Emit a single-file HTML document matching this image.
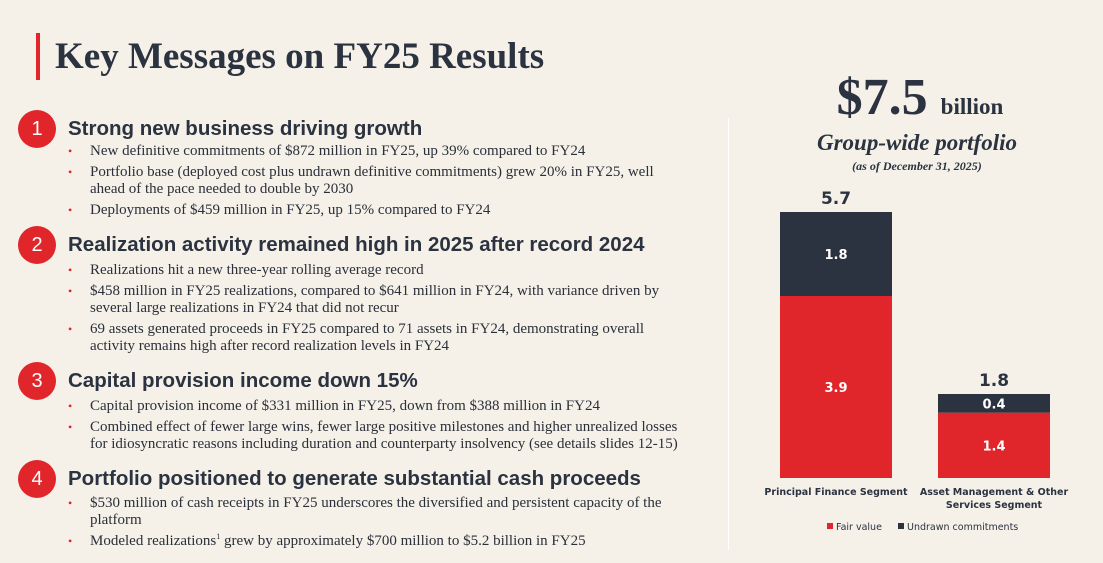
<!DOCTYPE html>
<html><head><meta charset="utf-8"><style>
body{margin:0;width:1103px;height:563px;background:#f5f1e8;position:relative;overflow:hidden;font-family:"Liberation Serif",serif;color:#2a2f3a}
.abs{position:absolute}
h1{position:absolute;left:55px;top:35px;margin:0;font:bold 37px "Liberation Serif",serif;color:#2b3240;white-space:nowrap}
.circ{position:absolute;left:18px;width:38px;height:38px;border-radius:50%;background:#e0262a;color:#fff;font:20px "Liberation Sans",sans-serif;text-align:center;line-height:38px}
.hd{position:absolute;left:68px;font:bold 20.5px "Liberation Sans",sans-serif;color:#2b3240;white-space:nowrap}
ul{position:absolute;left:68px;margin:0;padding:0;list-style:none;width:622px}
li{position:relative;padding-left:22px;font-size:15px;line-height:17px;margin-bottom:4px;color:#2a2f3a}
li:before{content:"•";position:absolute;left:0;color:#e0262a;font-size:12px}
</style></head><body>
<div class="abs" style="left:36px;top:33px;width:4px;height:47px;background:#e0262a"></div>
<h1>Key Messages on FY25 Results</h1>
<div class="abs" style="left:728px;top:118px;width:1px;height:432px;background:#fff"></div>

<div class="circ" style="top:110px">1</div>
<div class="hd" style="top:117px">Strong new business driving growth</div>
<ul style="top:143px">
<li>New definitive commitments of $872 million in FY25, up 39% compared to FY24</li>
<li>Portfolio base (deployed cost plus undrawn definitive commitments) grew 20% in FY25, well ahead of the pace needed to double by 2030</li>
<li>Deployments of $459 million in FY25, up 15% compared to FY24</li></ul>

<div class="circ" style="top:226px">2</div>
<div class="hd" style="top:233px">Realization activity remained high in 2025 after record 2024</div>
<ul style="top:262px">
<li>Realizations hit a new three-year rolling average record</li>
<li>$458 million in FY25 realizations, compared to $641 million in FY24, with variance driven by several large realizations in FY24 that did not recur</li>
<li>69 assets generated proceeds in FY25 compared to 71 assets in FY24, demonstrating overall activity remains high after record realization levels in FY24</li></ul>

<div class="circ" style="top:362px">3</div>
<div class="hd" style="top:369px">Capital provision income down 15%</div>
<ul style="top:398px">
<li>Capital provision income of $331 million in FY25, down from $388 million in FY24</li>
<li>Combined effect of fewer large wins, fewer large positive milestones and higher unrealized losses for idiosyncratic reasons including duration and counterparty insolvency (see details slides 12-15)</li></ul>

<div class="circ" style="top:460px">4</div>
<div class="hd" style="top:467px">Portfolio positioned to generate substantial cash proceeds</div>
<ul style="top:495px">
<li>$530 million of cash receipts in FY25 underscores the diversified and persistent capacity of the platform</li>
<li>Modeled realizations<sup style="font-size:8px;line-height:0">1</sup> grew by approximately $700 million to $5.2 billion in FY25</li></ul>

<div class="abs" style="left:740px;top:68px;width:360px;text-align:center;font:bold 52px 'Liberation Serif',serif;color:#2b3240;white-space:nowrap">$7.5 <span style="font-size:23px">billion</span></div>
<div class="abs" style="left:740px;top:130px;width:354px;text-align:center;font:italic bold 23px 'Liberation Serif',serif;color:#2b3240">Group-wide portfolio</div>
<div class="abs" style="left:740px;top:159px;width:354px;text-align:center;font:italic bold 12px 'Liberation Serif',serif;color:#2b3240">(as of December 31, 2025)</div>

<svg class="abs" style="left:0;top:0" width="1103" height="563" font-family="DejaVu Sans, sans-serif">
<g id="chart"></g>
<g font-size="9.5" fill="#2b3240">
<rect x="827" y="523" width="6" height="6" fill="#e0262a"/><text x="836" y="530">Fair value</text>
<rect x="898" y="523" width="6" height="6" fill="#2b3240"/><text x="907" y="530">Undrawn commitments</text>
</g>
</svg>
<script>
const categories=[["Principal Finance Segment"],["Asset Management & Other","Services Segment"]];
const fairValue=[3.9,1.4];
const undrawn=[1.8,0.4];
const totals=[5.7,1.8];
const base=478, scale=266/5.7, barW=112, xs=[780,938];
const y=v=>base-v*scale;
const g=document.getElementById('chart');
const NS='http://www.w3.org/2000/svg';
function mk(t,a,txt){const e=document.createElementNS(NS,t);for(const k in a)e.setAttribute(k,a[k]);if(txt!=null)e.textContent=txt;g.appendChild(e);return e;}
categories.forEach((c,i)=>{
 const x=xs[i], cx=x+barW/2;
 const r=mk('rect',{x:x,y:y(fairValue[i]),width:barW,height:fairValue[i]*scale,fill:'#e0262a'});
 
 
 const d=mk('rect',{x:x,y:y(fairValue[i]+undrawn[i]),width:barW,height:undrawn[i]*scale,fill:'#2b3240'});
 
 
 const t1=mk('text',{x:cx,y:(y(fairValue[i])+base)/2+5,'text-anchor':'middle',fill:'#fff','font-size':13,'font-weight':'bold'},fairValue[i].toFixed(1));
 
 
 const t2=mk('text',{x:cx,y:(y(fairValue[i])+y(fairValue[i]+undrawn[i]))/2+5,'text-anchor':'middle',fill:'#fff','font-size':13,'font-weight':'bold'},undrawn[i].toFixed(1));
 
 
 const t3=mk('text',{x:cx,y:y(totals[i])-8,'text-anchor':'middle',fill:'#2b3240','font-size':17,'font-weight':'bold'},totals[i].toFixed(1));
 
 
 c.forEach((ln,j)=>{const t=mk('text',{x:cx,y:495+j*13,'text-anchor':'middle',fill:'#2b3240','font-size':9.5,'font-weight':'bold'},ln);
 
 });
});
</script>
</body></html>
